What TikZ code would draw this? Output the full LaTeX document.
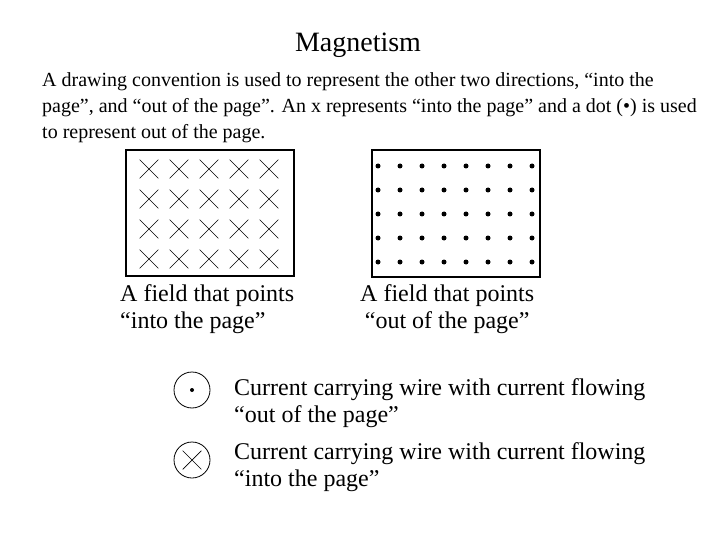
\documentclass[tikz,border=0pt]{standalone}
\usepackage{fontspec}
\setmainfont{Liberation Serif}
\usetikzlibrary{positioning,shapes.misc}
\tikzset{
    intomark/.style={
        cross out,draw,line width=0.7pt,minimum size=18pt,inner sep=0pt
    },
    outmark/.style={
        circle,fill,inner sep=0pt,minimum size=5pt
    },
    fieldbox/.style={
        draw,line width=1.5pt
    },
    wire/.style={
        circle,draw,line width=0.8pt,minimum size=36pt,inner sep=0pt
    },
    label/.style={
        anchor=north west,inner sep=0pt,align=left,
        font=\fontsize{24}{27}\selectfont
    }
}

\begin{document}
\begin{tikzpicture}[x=1pt,y=-1pt]
\useasboundingbox (0,0) rectangle (720,540);

\node[font=\fontsize{28}{32}\selectfont] (title) at (358,45) {Magnetism};

\node[anchor=north west,inner sep=0pt,align=left,
font=\fontsize{20}{26}\selectfont] (intro) at (42,72)
{A drawing convention is used to represent the other two directions, “into the\\
page”, and “out of the page”. An x represents “into the page” and a dot (•) is used\\
to represent out of the page.};

% field into the page
\draw[fieldbox] (126,150) rectangle (294,276);
\foreach \i in {0,...,4}
  \foreach \j in {0,...,3}
    \node[intomark] (in-\i-\j) at (149+30*\i,169+30*\j) {};

% field out of the page
\draw[fieldbox] (372,150) rectangle (540,277);
\foreach \i in {0,...,7}
  \foreach \j in {0,...,4}
    \node[outmark] (out-\i-\j) at (378+22*\i,166+24*\j) {};

\node[label] (incap) at (120,284) {A field that points\\ “into the page”};
\node[label,align=center] (outcap) at (360,284) {A field that points\\“out of the page”};

% wires
\node[wire] (wireout) at (192,390) {};
\node[outmark,minimum size=4pt] (wireoutdot) at (wireout) {};
\node[wire] (wirein) at (192,460) {};
\node[intomark,minimum size=18pt] (wireincross) at (wirein) {};

\node[label] (outtxt) at (234,378)
{Current carrying wire with current flowing\\“out of the page”};
\node[label] (intxt) at (234,442)
{Current carrying wire with current flowing\\“into the page”};

\end{tikzpicture}
\end{document}
